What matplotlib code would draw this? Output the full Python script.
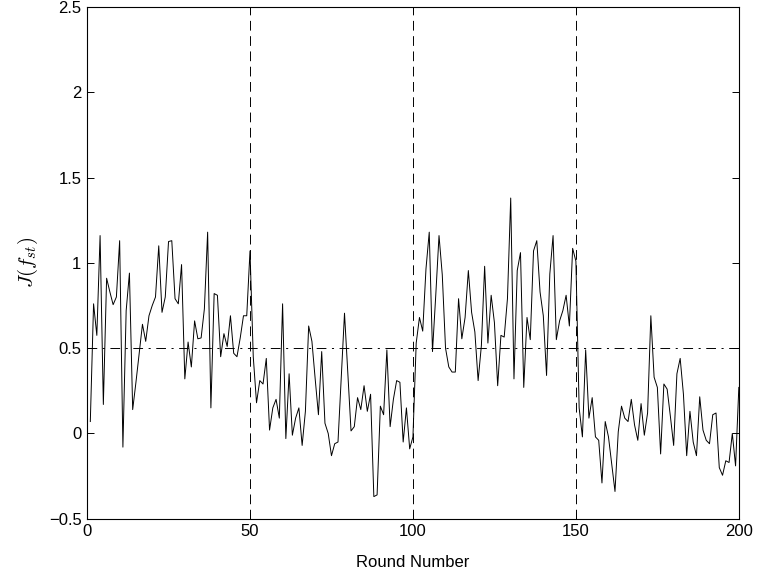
import matplotlib
matplotlib.use("Agg")
from matplotlib import pyplot as plt

plt.rcParams['font.family'] = ['Liberation Sans', 'DejaVu Sans']
plt.rcParams['mathtext.fontset'] = 'cm'
plt.rcParams['lines.scale_dashes'] = False

# values, rounds 1..200
rounds = list(range(1, 201))
j_values = [
    0.07, 0.76, 0.575, 1.16, 0.17, 0.91, 0.83, 0.755, 0.80, 1.13,
    -0.08, 0.72, 0.94, 0.14, 0.30, 0.47, 0.64, 0.54, 0.69, 0.75,
    0.80, 1.10, 0.71, 0.80, 1.125, 1.13, 0.79, 0.76, 0.99, 0.32,
    0.536, 0.39, 0.66, 0.555, 0.56, 0.73, 1.18, 0.15, 0.82, 0.81,
    0.45, 0.585, 0.51, 0.69, 0.47, 0.45, 0.56, 0.69, 0.69, 1.07,
    0.45, 0.18, 0.31, 0.29, 0.44, 0.02, 0.15, 0.20, 0.09, 0.76,
    -0.03, 0.35, -0.01, 0.09, 0.15, -0.07, 0.13, 0.63, 0.54, 0.32,
    0.11, 0.48, 0.06, 0.00, -0.13, -0.06, -0.05, 0.33, 0.705, 0.36,
    0.015, 0.04, 0.21, 0.14, 0.28, 0.13, 0.23, -0.37, -0.36, 0.16,
    0.11, 0.49, 0.04, 0.20, 0.31, 0.30, -0.05, 0.15, -0.09, -0.02,
    0.53, 0.68, 0.60, 0.965, 1.18, 0.48, 0.81, 1.16, 0.93, 0.50,
    0.39, 0.36, 0.36, 0.79, 0.555, 0.68, 0.955, 0.71, 0.595, 0.31,
    0.515, 0.98, 0.53, 0.81, 0.65, 0.28, 0.575, 0.565, 0.79, 1.38,
    0.32, 0.955, 1.06, 0.27, 0.68, 0.55, 1.07, 1.13, 0.83, 0.69,
    0.34, 0.935, 1.16, 0.55, 0.66, 0.72, 0.81, 0.63, 1.085, 1.01,
    0.15, -0.02, 0.49, 0.09, 0.21, -0.02, -0.04, -0.29, 0.07, -0.02,
    -0.18, -0.34, 0.01, 0.16, 0.09, 0.07, 0.20, 0.05, -0.04, 0.175,
    -0.01, 0.12, 0.69, 0.33, 0.27, -0.12, 0.29, 0.26, 0.10, -0.07,
    0.35, 0.44, 0.23, -0.13, 0.13, -0.05, -0.13, 0.215, 0.02, -0.04,
    -0.06, 0.11, 0.12, -0.20, -0.245, -0.16, -0.17, 0.00, -0.19, 0.27,
]
phase_bounds = [50, 100, 150]
target = 0.5
x_ticks = [0, 50, 100, 150, 200]
y_ticks = [-0.5, 0, 0.5, 1, 1.5, 2, 2.5]
y_tick_labels = ["\u22120.5", "0", "0.5", "1", "1.5", "2", "2.5"]

fig = plt.figure(figsize=(7.57, 5.79), dpi=100)
ax = fig.add_axes([0.115, 0.104, 0.861, 0.884])

ax.plot(rounds, j_values, color='black', linewidth=0.7)
for b in phase_bounds:
    ax.plot([b, b], [-0.5, 2.5], color='black', linewidth=0.7, linestyle=(0, (7, 4)))
ax.plot([0, 200], [target, target], color='black', linewidth=0.7, linestyle=(0, (7, 4, 1.5, 4)))

ax.set_xlim(0, 200)
ax.set_ylim(-0.5, 2.5)
ax.set_xticks(x_ticks)
ax.set_yticks(y_ticks)
ax.set_yticklabels(y_tick_labels)
ax.tick_params(direction='in', top=True, right=True, length=5, width=0.7, labelsize=12, pad=4)
for s in ax.spines.values():
    s.set_linewidth(0.8)

ax.set_xlabel("Round Number", fontsize=12, labelpad=11)
ax.set_ylabel(r"$J(f_{st})$", fontsize=15, labelpad=6)

fig.savefig("out.png", dpi=100)
